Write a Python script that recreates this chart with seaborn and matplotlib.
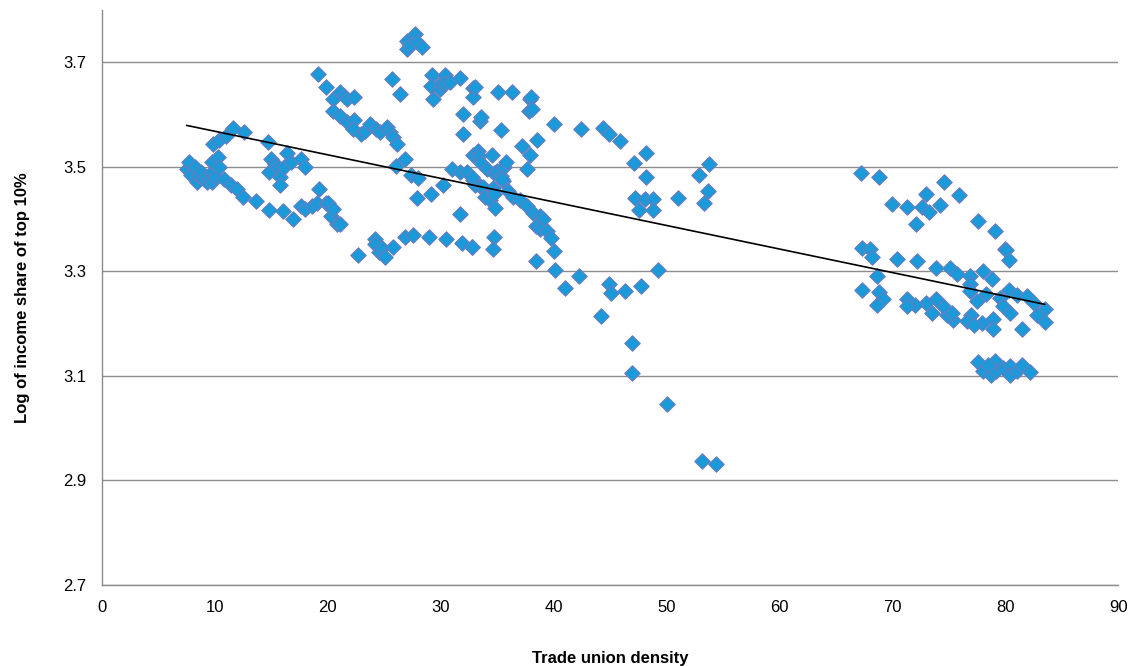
import pandas as pd
import matplotlib
matplotlib.use("Agg")
import matplotlib.pyplot as plt
import seaborn as sns

# Trade union density vs. log income share of top 10%
union_density = [
    # left group 7-14
    7.5, 7.7, 7.9, 8.2, 8.4, 8.6, 8.8, 9.0, 9.3, 9.7, 9.7, 9.7, 9.8, 10.0, 10.3, 10.4,
    10.4, 10.8, 11.0, 11.4, 11.6, 12.0, 12.5, 12.6, 13.6, 14.8, 16.0, 16.9,
    # 15-18
    14.7, 14.8, 15.0, 15.3, 15.6, 15.8, 15.8, 16.1, 16.4, 16.7, 17.6, 18.0,
    # 17-21 lower
    17.6, 18.0, 18.6, 19.2, 19.0, 19.8, 20.0, 20.3, 20.5, 20.8, 21.1,
    # upper diagonal 19-26
    19.1, 19.8, 20.5, 20.5, 21.1, 21.1, 21.4, 21.7, 21.7, 22.3, 22.3, 22.2, 22.9, 23.3,
    23.7, 24.3, 24.6, 25.2, 25.5, 25.8, 26.1, 25.7, 26.4, 26.0, 26.8,
    # top
    27.0, 27.0, 27.3, 27.7, 27.9, 28.3,
    # 27-34 middle
    27.4, 28.0, 27.9, 29.1, 30.2, 31.0, 31.7, 32.3, 31.7, 32.9, 33.5,
    # bottom band
    22.7, 24.2, 24.2, 24.5, 24.8, 25.1, 25.8, 26.8, 27.5, 29.0, 30.5, 31.9, 32.8,
    # 29-33 top
    29.2, 29.1, 29.3, 29.9, 30.0, 30.4, 30.4, 30.8, 31.7, 32.0, 32.0, 32.9, 32.9, 33.0,
    # 33-40 upper
    33.5, 33.6, 35.1, 36.3, 35.3, 37.9, 38.0, 37.8, 38.1, 38.5, 40.0,
    # 33-40 middle
    32.9, 33.3, 33.4, 33.6, 34.1, 34.5, 34.7, 35.0, 35.3, 35.5, 35.6, 35.8, 36.0, 36.4,
    37.0, 37.2, 37.9, 37.6, 37.6, 38.2, 38.8, 39.1, 38.4, 38.8, 39.4, 39.8, 40.0, 33.0,
    33.7, 34.6, 35.4, 33.9, 34.4, 34.7, 34.8, 32.8,
    # 32-42 lower
    32.8, 34.7, 34.6, 38.4, 40.1, 41.0, 42.2,
    # 42-55 upper
    42.4, 44.4, 44.9, 45.9, 47.1, 48.2, 48.2, 47.2, 47.6, 48.1, 48.8, 48.8, 51.0, 52.9,
    53.8, 53.7, 53.3,
    # 44-55 lower
    44.2, 44.9, 45.1, 46.3, 47.7, 49.2, 46.9, 46.9, 50.0, 53.1, 54.4,
    # right group 67-84
    67.2, 68.8, 74.6, 73.0, 75.9, 70.0, 71.3, 72.6, 73.2, 74.2, 72.1, 77.6, 79.1, 80.0,
    80.1, 80.3, 67.3, 68.0, 68.2, 70.4, 72.2, 73.9, 75.1, 75.7, 78.0, 78.8, 76.9, 68.6,
    76.9, 76.9, 67.3, 68.8, 69.2, 68.6, 78.3, 77.5, 79.5, 80.3, 81.0, 81.9, 82.5, 79.8,
    80.4, 83.5, 82.8, 83.5, 81.5, 78.9, 78.9, 77.9, 77.0, 76.6, 77.2, 75.4, 74.8, 74.5,
    73.9, 73.5, 73.0, 72.0, 71.3, 71.3, 75.3,
    # right bottom band
    77.6, 78.0, 78.7, 79.1, 79.2, 79.8, 80.4, 80.4, 81.0, 81.5, 82.2, 78.5,
]

log_top10 = [
    3.495, 3.510, 3.485, 3.500, 3.470, 3.482, 3.490, 3.476, 3.470, 3.470, 3.490, 3.510, 3.543, 3.480, 3.518, 3.500,
    3.552, 3.476, 3.558, 3.466, 3.575, 3.457, 3.443, 3.566, 3.435, 3.418, 3.415, 3.400,
    3.547, 3.490, 3.514, 3.505, 3.500, 3.480, 3.466, 3.500, 3.527, 3.510, 3.514, 3.500,
    3.424, 3.420, 3.425, 3.457, 3.430, 3.430, 3.430, 3.405, 3.420, 3.390, 3.390,
    3.677, 3.652, 3.629, 3.606, 3.644, 3.597, 3.635, 3.629, 3.585, 3.633, 3.590, 3.572, 3.562, 3.568,
    3.581, 3.572, 3.566, 3.577, 3.566, 3.556, 3.543, 3.667, 3.639, 3.501, 3.514,
    3.740, 3.725, 3.733, 3.754, 3.738, 3.729,
    3.485, 3.479, 3.440, 3.447, 3.466, 3.495, 3.489, 3.489, 3.409, 3.475, 3.463,
    3.332, 3.361, 3.353, 3.336, 3.345, 3.328, 3.347, 3.365, 3.370, 3.365, 3.361, 3.355, 3.347,
    3.676, 3.654, 3.629, 3.648, 3.660, 3.676, 3.660, 3.663, 3.670, 3.600, 3.562, 3.651, 3.633, 3.652,
    3.588, 3.595, 3.644, 3.644, 3.571, 3.629, 3.633, 3.606, 3.610, 3.552, 3.581,
    3.523, 3.530, 3.520, 3.508, 3.495, 3.523, 3.488, 3.491, 3.482, 3.472, 3.499, 3.510, 3.453, 3.443,
    3.437, 3.539, 3.523, 3.495, 3.424, 3.412, 3.405, 3.400, 3.386, 3.380, 3.377, 3.364, 3.338, 3.466,
    3.462, 3.460, 3.476, 3.443, 3.437, 3.447, 3.421, 3.480,
    3.347, 3.365, 3.342, 3.319, 3.303, 3.268, 3.290,
    3.572, 3.575, 3.562, 3.549, 3.508, 3.526, 3.480, 3.440, 3.417, 3.438, 3.438, 3.417, 3.441, 3.484,
    3.505, 3.453, 3.430,
    3.215, 3.275, 3.258, 3.263, 3.271, 3.302, 3.162, 3.106, 3.045, 2.936, 2.932,
    3.488, 3.481, 3.470, 3.448, 3.445, 3.429, 3.422, 3.423, 3.413, 3.426, 3.391, 3.397, 3.377, 3.343,
    3.340, 3.322, 3.345, 3.342, 3.327, 3.324, 3.320, 3.307, 3.307, 3.294, 3.301, 3.285, 3.290, 3.290,
    3.275, 3.262, 3.265, 3.260, 3.246, 3.236, 3.256, 3.243, 3.249, 3.265, 3.255, 3.252, 3.240, 3.233,
    3.220, 3.228, 3.217, 3.202, 3.190, 3.209, 3.190, 3.201, 3.217, 3.204, 3.198, 3.207, 3.217, 3.233,
    3.246, 3.220, 3.240, 3.236, 3.246, 3.233, 3.220,
    3.127, 3.109, 3.102, 3.128, 3.110, 3.115, 3.118, 3.102, 3.109, 3.120, 3.107, 3.121,
]

df = pd.DataFrame({'density': union_density, 'log_share': log_top10})

sns.set_theme(style='white')
plt.rcParams['font.family'] = ['Liberation Sans', 'DejaVu Sans']
plt.rcParams['text.color'] = 'black'

fig, ax = plt.subplots(figsize=(11.33, 6.66), dpi=100)
fig.subplots_adjust(left=0.090, right=0.987, top=0.985, bottom=0.122)

sns.scatterplot(ax=ax, data=df, x='density', y='log_share', marker='D', s=62,
                color='#1A9AD8', edgecolor='#6A7CC2', linewidth=0.8, zorder=3)
sns.regplot(ax=ax, data=df, x='density', y='log_share', scatter=False, ci=None,
            line_kws=dict(color='black', linewidth=1.2, zorder=4))

ax.set_xlim(0, 90)
ax.set_ylim(2.7, 3.8)
ax.set_xticks(range(0, 91, 10))
ax.set_yticks([2.7, 2.9, 3.1, 3.3, 3.5, 3.7])
ax.set_yticklabels(['2.7', '2.9', '3.1', '3.3', '3.5', '3.7'])
ax.yaxis.grid(True, color='#8C8C8C', linewidth=1.0)
ax.set_axisbelow(True)

for side in ['top', 'right']:
    ax.spines[side].set_visible(False)
for side in ['left', 'bottom']:
    ax.spines[side].set_color('#8C8C8C')
    ax.spines[side].set_linewidth(1.0)

ax.tick_params(axis='both', which='major', direction='out', length=5, width=1,
               color='#8C8C8C', labelsize=12, labelcolor='black', pad=6)

ax.set_xlabel('Trade union density', fontsize=12, fontweight='bold', color='black', labelpad=26)
ax.set_ylabel('Log of income share of top 10%', fontsize=12, fontweight='bold', color='black', labelpad=24)

plt.savefig('out.png', dpi=100)
